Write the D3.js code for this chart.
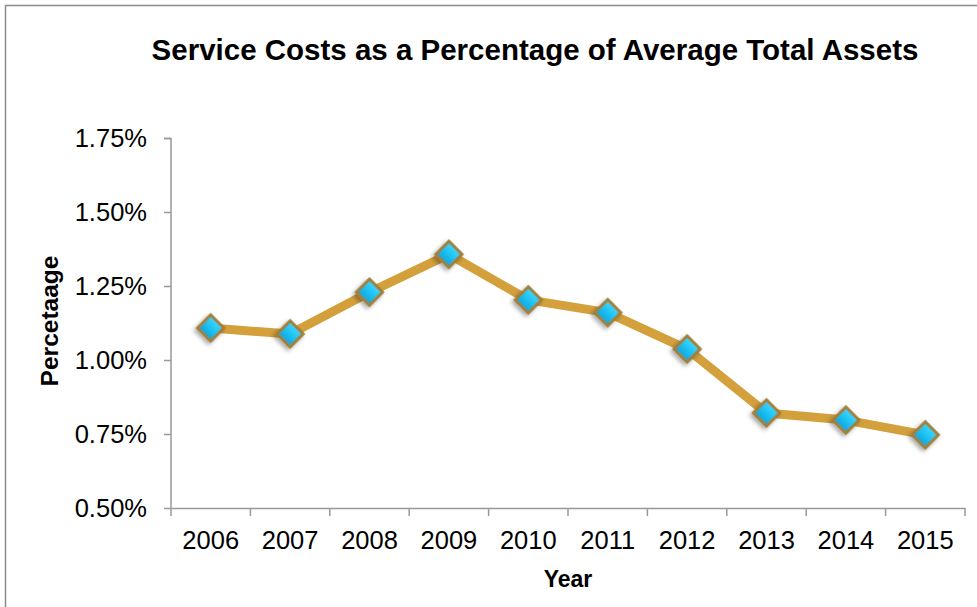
<!DOCTYPE html>
<html>
<head>
<meta charset="utf-8">
<script src="https://cdn.jsdelivr.net/npm/d3@7"></script>
<style>
  body { margin: 0; background: #fff; }
  svg { display: block; }
</style>
</head>
<body>
<svg id="chart" width="977" height="607"></svg>
<script>
// data
const years = ["2006", "2007", "2008", "2009", "2010", "2011", "2012", "2013", "2014", "2015"];
const costPct = [1.108, 1.088, 1.229, 1.357, 1.203, 1.160, 1.037, 0.821, 0.797, 0.747];
const yTicks = [0.5, 0.75, 1.0, 1.25, 1.5, 1.75];

const width = 977, height = 607;
const margin = { top: 138, right: 12, bottom: 99, left: 171 };
const font = "'Liberation Sans', Arial, Helvetica, sans-serif";

const svg = d3.select("#chart")
    .attr("font-family", font);

// outer chart frame (right and bottom edges run off the picture)
svg.append("path")
    .attr("d", `M5.5,${height + 2} V5.5 H${width + 2}`)
    .attr("fill", "none")
    .attr("stroke", "#8c8c8c")
    .attr("stroke-width", 1.5);

const x = d3.scaleBand()
    .domain(years)
    .range([margin.left, width - margin.right]);

const y = d3.scaleLinear()
    .domain([0.5, 1.75])
    .range([height - margin.bottom, margin.top]);

// gradient + shadow for the diamond markers
const defs = svg.append("defs");
const grad = defs.append("linearGradient")
    .attr("id", "gem")
    .attr("x1", 0).attr("y1", 0).attr("x2", 0).attr("y2", 1);
grad.append("stop").attr("offset", "0%").attr("stop-color", "#3fd6ff");
grad.append("stop").attr("offset", "50%").attr("stop-color", "#1cc2f2");
grad.append("stop").attr("offset", "100%").attr("stop-color", "#0ea3dc");

const shadow = defs.append("filter")
    .attr("id", "shadow")
    .attr("x", "-50%").attr("y", "-50%").attr("width", "200%").attr("height", "200%");
shadow.append("feDropShadow")
    .attr("dx", 0).attr("dy", 3)
    .attr("stdDeviation", 2.2)
    .attr("flood-color", "#000")
    .attr("flood-opacity", 0.35);

// axes
const yAxis = svg.append("g")
    .attr("transform", `translate(${margin.left},0)`)
    .call(d3.axisLeft(y)
        .tickValues(yTicks)
        .tickSize(7)
        .tickPadding(17)
        .tickFormat(d => d.toFixed(2) + "%"));

const xAxis = svg.append("g")
    .attr("transform", `translate(0,${height - margin.bottom})`)
    .call(d3.axisBottom(x).tickSize(0));

// Excel-style ticks sit on the category boundaries
const bounds = years.map(d => x(d)).concat([x.range()[1]]);
xAxis.selectAll(".bound")
    .data(bounds)
    .join("line")
    .attr("class", "bound")
    .attr("x1", d => d).attr("x2", d => d)
    .attr("y1", 0).attr("y2", 8)
    .attr("stroke", "#999")
    .attr("stroke-width", 1.5);

[xAxis, yAxis].forEach(g => {
    g.select(".domain").attr("stroke", "#999").attr("stroke-width", 1.5);
    g.selectAll(".tick line").attr("stroke", "#999").attr("stroke-width", 1.5);
    g.selectAll(".tick text")
        .attr("font-size", 25.5)
        .attr("fill", "#000")
        .attr("font-family", font);
});
xAxis.selectAll(".tick text").attr("y", 41).attr("dy", 0);
yAxis.select(".domain").attr("d", `M-7,${margin.top}.5H0V${height - margin.bottom}`);

// the series
const pts = years.map((d, i) => [x(d) + x.bandwidth() / 2, y(costPct[i])]);

svg.append("path")
    .attr("d", d3.line()(pts))
    .attr("fill", "none")
    .attr("stroke", "#d3a03c")
    .attr("stroke-width", 9)
    .attr("stroke-linejoin", "round");

const sym = d3.symbol().type(d3.symbolSquare).size(340);
svg.append("g")
    .selectAll("path")
    .data(pts)
    .join("path")
    .attr("d", sym)
    .attr("transform", d => `translate(${d[0]},${d[1]}) rotate(45)`)
    .attr("fill", "url(#gem)")
    .attr("stroke", "#9e7f3a")
    .attr("stroke-width", 3)
    .attr("filter", "url(#shadow)");

// titles
svg.append("text")
    .attr("x", 535).attr("y", 60)
    .attr("text-anchor", "middle")
    .attr("font-size", 29.5)
    .attr("font-weight", "bold")
    .text("Service Costs as a Percentage of Average Total Assets");

svg.append("text")
    .attr("x", 568).attr("y", 587)
    .attr("text-anchor", "middle")
    .attr("font-size", 23)
    .attr("font-weight", "bold")
    .text("Year");

svg.append("text")
    .attr("transform", "translate(58,321) rotate(-90)")
    .attr("text-anchor", "middle")
    .attr("font-size", 24.5)
    .attr("font-weight", "bold")
    .text("Percetaage");
</script>
</body>
</html>
